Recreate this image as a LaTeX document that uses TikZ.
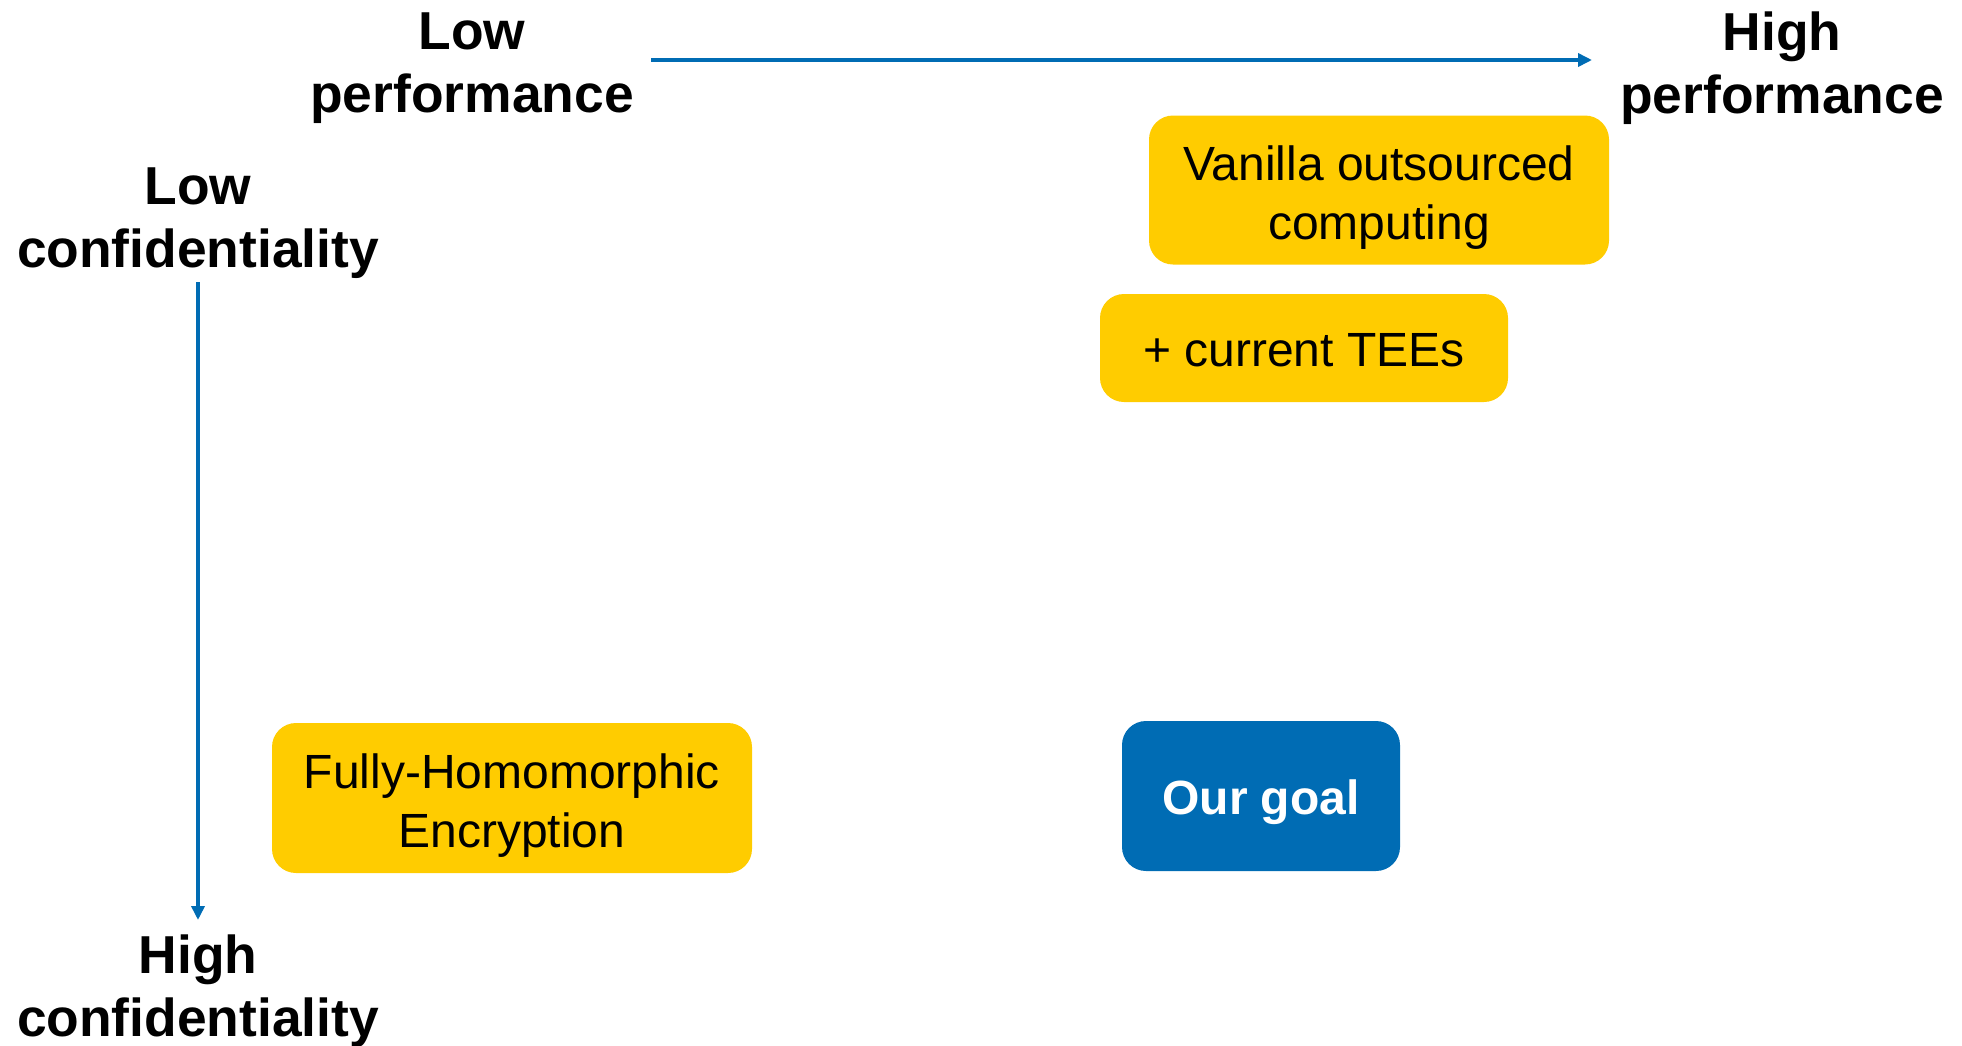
\documentclass[tikz,border=0pt]{standalone}
\usepackage{fontspec}
\setmainfont{Liberation Sans}
\usetikzlibrary{arrows.meta}

\definecolor{boxyellow}{RGB}{255,204,0}
\definecolor{axisblue}{RGB}{0,108,180}

% text of a box, first baseline raised by #1 from the box centre
\newcommand{\boxtext}[2]{\raisebox{#1}[0pt][0pt]{\begin{tabular}[t]{@{}c@{}}#2\end{tabular}}}

\tikzstyle{box} = [rectangle, rounded corners=12pt, fill=boxyellow, inner sep=0pt, font=\fontsize{24}{29.5}\selectfont]
\tikzstyle{label} = [align=center, inner sep=0pt, font=\fontsize{26.7}{31.5}\selectfont\bfseries]
\tikzstyle{axis} = [draw=axisblue, line width=2pt, -{Triangle[length=7pt,width=6.5pt]}]

\begin{document}
\begin{tikzpicture}[x=0.5pt, y=-0.5pt]
    % page frame
    \useasboundingbox (0,0) rectangle (1962,1045);

    % axis labels
    \node [label] (lowperf) at (472,68) {Low\\performance};
    \node [label] (highperf) at (1782,68) {High\\performance};
    \node [label] (lowconf) at (198,223) {Low\\confidentiality};
    \node [label] (highconf) at (198,991) {High\\confidentiality};

    % arrow ends
    \coordinate (perfstart) at (651,60);
    \coordinate (perfend) at (1592,60);
    \coordinate (confstart) at (198,282);
    \coordinate (confend) at (198,920);

    \draw [axis] (perfstart) -- (perfend);
    \draw [axis] (confstart) -- (confend);

    % approaches
    \node [box, minimum width=230pt, minimum height=74.5pt] (vanilla) at (1379,190) {\boxtext{5pt}{Vanilla outsourced\\computing}};
    \node [box, minimum width=204pt, minimum height=54pt] (tees) at (1304,348) {\boxtext{-9.2pt}{+ current TEEs}};
    \node [box, minimum width=240pt, minimum height=75pt] (fhe) at (512,798) {\boxtext{5pt}{Fully-Homomorphic\\Encryption}};
    \node [box, fill=axisblue, text=white, font=\fontsize{24}{29.5}\selectfont\bfseries, minimum width=139pt, minimum height=75pt] (goal) at (1261,796) {\boxtext{-9.2pt}{Our goal}};
\end{tikzpicture}
\end{document}
